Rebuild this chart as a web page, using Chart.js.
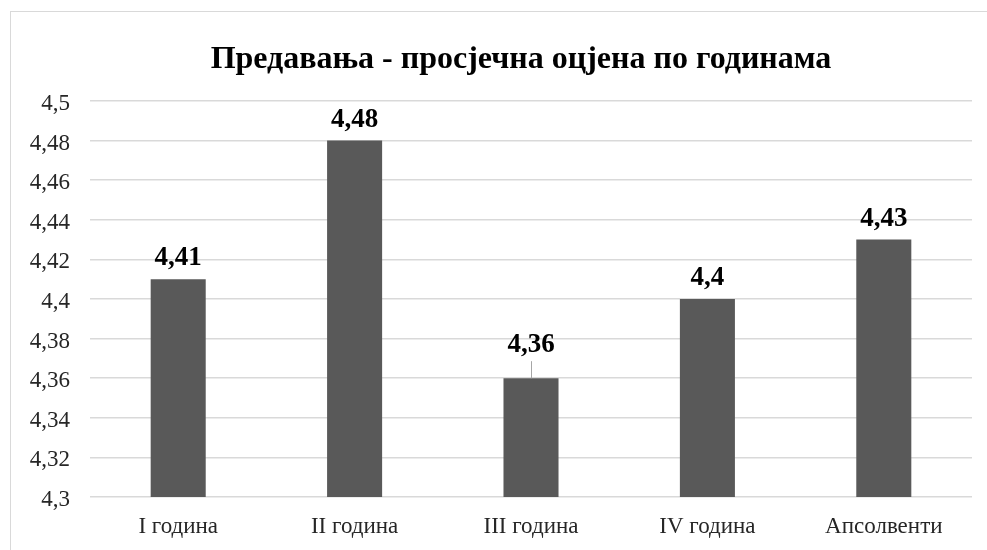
<!DOCTYPE html>
<html>
<head>
<meta charset="utf-8">
<script src="https://cdn.jsdelivr.net/npm/chart.js@4.4.0/dist/chart.umd.min.js"></script>
<style>
    html, body { margin: 0; padding: 0; background: #fff; }
    #wrap { position: relative; width: 987px; height: 550px; overflow: hidden; }
    #frame { position: absolute; left: 10px; top: 11px; width: 1000px; height: 600px; border: 1px solid #d9d9d9; box-sizing: border-box; }
    #chart { position: absolute; left: 0; top: 0; }
</style>
</head>
<body>
<div id="wrap">
    <div id="frame"></div>
    <canvas id="chart" width="987" height="550"></canvas>
</div>
<script>
var chartTitle = 'Предавања - просјечна оцјена по годинама';
var categories = ['I година', 'II година', 'III година', 'IV година', 'Апсолвенти'];
var grades = [4.41, 4.48, 4.36, 4.4, 4.43];
var yTicks = [4.3, 4.32, 4.34, 4.36, 4.38, 4.4, 4.42, 4.44, 4.46, 4.48, 4.5];

var serif = '"Liberation Serif", "Times New Roman", serif';

function commaNum(v) {
    return String(Math.round(v * 100) / 100).replace('.', ',');
}

// Title is drawn by hand, it sits a bit right of the canvas centre
var titlePlugin = {
    id: 'titlePlugin',
    afterDraw: function(chart) {
        var ctx = chart.ctx;
        ctx.save();
        ctx.font = 'bold 32px ' + serif;
        ctx.fillStyle = '#000';
        ctx.textAlign = 'center';
        ctx.textBaseline = 'alphabetic';
        ctx.fillText(chartTitle, 521, 68);
        ctx.restore();
    }
};

// Bold value labels above bars; the 4,36 label sits higher with a leader line
var valueLabels = {
    id: 'valueLabels',
    afterDatasetsDraw: function(chart) {
        var ctx = chart.ctx;
        var meta = chart.getDatasetMeta(0);
        ctx.save();
        ctx.font = 'bold 27px ' + serif;
        ctx.fillStyle = '#000';
        ctx.textAlign = 'center';
        ctx.textBaseline = 'alphabetic';
        meta.data.forEach(function(bar, i) {
            var lift = 14;
            if (i === 2) {
                lift = 26;
                ctx.strokeStyle = '#a6a6a6';
                ctx.lineWidth = 1;
                ctx.beginPath();
                ctx.moveTo(Math.round(bar.x) + 0.5, bar.y - 17);
                ctx.lineTo(Math.round(bar.x) + 0.5, bar.y);
                ctx.stroke();
            }
            ctx.fillText(commaNum(grades[i]), bar.x, bar.y - lift);
        });
        ctx.restore();
    }
};

var ctx = document.getElementById('chart').getContext('2d');
var gradeChart = new Chart(ctx, {
    type: 'bar',
    data: {
        labels: categories,
        datasets: [{
            data: grades,
            backgroundColor: '#595959',
            borderWidth: 0,
            barPercentage: 0.312,
            categoryPercentage: 1
        }]
    },
    options: {
        responsive: false,
        animation: false,
        layout: { padding: { left: 0, right: 15, top: 101, bottom: 0 } },
        plugins: {
            legend: { display: false },
            tooltip: { enabled: false },
            title: { display: false }
        },
        scales: {
            x: {
                grid: { display: false, drawTicks: false },
                border: { display: false },
                ticks: {
                    color: '#262626',
                    padding: 16,
                    font: { family: serif, size: 23 }
                },
                afterFit: function(scale) { scale.height = 53; }
            },
            y: {
                min: 4.3,
                max: 4.5,
                afterBuildTicks: function(scale) {
                    scale.ticks = yTicks.map(function(v) { return { value: v }; });
                },
                grid: { color: '#d9d9d9', lineWidth: 1.5, drawTicks: false, tickLength: 0 },
                border: { display: false },
                ticks: {
                    color: '#262626',
                    padding: 20,
                    labelOffset: 3,
                    font: { family: serif, size: 23 },
                    callback: function(v) { return commaNum(v); }
                },
                afterFit: function(scale) { scale.width = 90; }
            }
        }
    },
    plugins: [valueLabels, titlePlugin]
});
</script>
</body>
</html>
